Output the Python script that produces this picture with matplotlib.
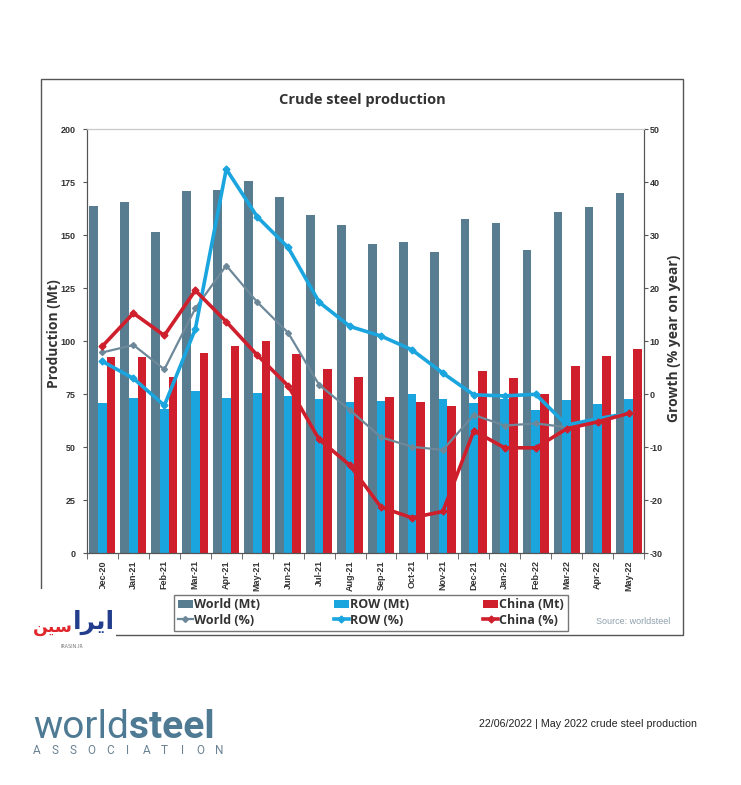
import matplotlib
matplotlib.use("Agg")
import matplotlib.pyplot as plt
from matplotlib.patches import Rectangle
import numpy as np

plt.rcParams["axes.unicode_minus"] = False

# months on the x axis
months = ["Dec-20", "Jan-21", "Feb-21", "Mar-21", "Apr-21", "May-21", "Jun-21",
          "Jul-21", "Aug-21", "Sep-21", "Oct-21", "Nov-21", "Dec-21", "Jan-22",
          "Feb-22", "Mar-22", "Apr-22", "May-22"]

# production, Mt (left axis)
world_mt = [163.7, 165.6, 151.6, 171.0, 171.5, 175.8, 168.2, 159.6, 154.9,
            146.0, 147.0, 142.3, 157.5, 156.0, 143.0, 160.8, 163.5, 169.8]
row_mt = [71.0, 73.3, 67.9, 76.6, 73.4, 75.5, 74.0, 72.6, 71.4,
          71.8, 75.1, 72.8, 70.9, 73.0, 67.6, 72.2, 70.6, 72.6]
china_mt = [92.6, 92.4, 83.3, 94.3, 97.8, 100.1, 93.9, 86.8, 83.3,
            73.7, 71.5, 69.3, 86.1, 82.8, 75.0, 88.3, 92.9, 96.5]

# growth, % year on year (right axis)
world_pct = [7.9, 9.3, 4.7, 16.2, 24.3, 17.4, 11.6, 1.8, -3.0,
             -8.1, -9.9, -10.5, -3.9, -5.9, -5.5, -6.2, -4.7, -3.6]
row_pct = [6.2, 3.0, -2.1, 12.3, 42.5, 33.5, 27.7, 17.4, 12.8,
           11.0, 8.4, 4.0, -0.1, -0.3, 0.0, -5.8, -4.6, -3.6]
china_pct = [9.1, 15.3, 11.1, 19.6, 13.7, 7.4, 1.6, -8.5, -13.4,
             -21.3, -23.3, -22.1, -6.9, -10.1, -10.1, -6.5, -5.2, -3.6]

c_world = "#587c90"
c_row = "#1ba5de"
c_china = "#cf1f2d"
c_world_line = "#6d8899"
dark = "#333333"

fig = plt.figure(figsize=(7.41, 7.85), dpi=100)
W, H = 741.0, 785.0

def fx(px):
    return px / W

def fy(py):
    return 1 - py / H

# outer frame
fig.patches.append(Rectangle((fx(40.7), fy(635)), fx(682.7) - fx(40.7), fy(79.3) - fy(635),
                             transform=fig.transFigure, fill=False, edgecolor="#555555",
                             linewidth=1.0, zorder=1))

ax = fig.add_axes([fx(87), fy(553.3), fx(644) - fx(87), fy(129.3) - fy(553.3)])
ax2 = ax.twinx()

x = np.arange(len(months))
bw = 0.28
ax.bar(x - bw, world_mt, bw, color=c_world, label="World (Mt)", zorder=2)
ax.bar(x, row_mt, bw, color=c_row, label="ROW (Mt)", zorder=2)
ax.bar(x + bw, china_mt, bw, color=c_china, label="China (Mt)", zorder=2)

ax.set_xlim(-0.5, len(months) - 0.5)
ax.set_ylim(0, 200)
ax.set_yticks(np.arange(0, 201, 25))

ax2.plot(x, world_pct, color=c_world_line, lw=1.6, marker="D", ms=3, label="World (%)")
ax2.plot(x, row_pct, color=c_row, lw=2.6, marker="D", ms=3.5, label="ROW (%)")
ax2.plot(x, china_pct, color=c_china, lw=2.6, marker="D", ms=3.5, label="China (%)")
ax2.set_ylim(-30, 50)
ax2.set_yticks(np.arange(-30, 51, 10))

tick_font = dict(family="Liberation Sans", weight="bold", size=6.5)
ax.set_xticks(x)
ax.set_xticklabels(months, rotation=90, color=dark, **tick_font)
ax.set_xticks(np.arange(-0.5, len(months), 1), minor=True)
ax.tick_params(axis="x", which="major", length=0, pad=5)
ax.tick_params(axis="x", which="minor", length=4, color="#555555")
for lab in ax.get_yticklabels():
    lab.set(color=dark, **tick_font)
for lab in ax2.get_yticklabels():
    lab.set(color=dark, **tick_font)
ax.tick_params(axis="y", length=3, color="#555555", pad=5)
ax2.tick_params(axis="y", length=3, color="#555555", pad=1)

for a in (ax, ax2):
    a.spines["left"].set_color("#555555")
    a.spines["right"].set_color("#555555")
    a.spines["bottom"].set_color("#555555")
    a.spines["top"].set_color("#c8c8c8")

lab_font = dict(family="Open Sans", weight="bold", size=10, color=dark)
ax.set_ylabel("Production (Mt)", **lab_font)
ax.yaxis.set_label_coords(-0.047, 0.517)
ax2.set_ylabel("Growth (% year on year)", **lab_font)
ax2.yaxis.set_label_coords(1.041, 0.508)

fig.text(fx(362), fy(100), "Crude steel production", ha="center", va="center",
         family="Open Sans", weight="bold", size=10.5, color=dark)

h1, l1 = ax.get_legend_handles_labels()
h2, l2 = ax2.get_legend_handles_labels()
handles = [h1[0], h2[0], h1[1], h2[1], h1[2], h2[2]]
labels = [l1[0], l2[0], l1[1], l2[1], l1[2], l2[2]]
leg = fig.legend(handles, labels, ncol=3, loc="center", bbox_to_anchor=(fx(371), fy(612.5)),
                 frameon=True, fancybox=False, edgecolor="#555555", handlelength=1.2,
                 handletextpad=0.1, columnspacing=5.9, labelspacing=0.2, borderpad=0.3,
                 prop=dict(family="Open Sans", weight="bold", size=9))
leg.get_frame().set_linewidth(1.0)
for t in leg.get_texts():
    t.set_color(dark)

fig.text(fx(670), fy(622), "Source: worldsteel", ha="right", va="center",
         family="Liberation Sans", size=6.5, color="#8fa0ad")

# logo block covering the frame corner
fig.patches.append(Rectangle((fx(32), fy(668)), fx(116) - fx(32), fy(589) - fy(668),
                             transform=fig.transFigure, facecolor="white", edgecolor="none",
                             zorder=3))
fig.canvas.draw()
t_blue = fig.text(fx(115), fy(622), "\uFE8D\uFEAE\uFEF3\uFE8D", ha="right", va="center",
                  family="DejaVu Sans", weight="bold", size=18, color="#243e8e", zorder=4)
fig.canvas.draw()
bb_blue = t_blue.get_window_extent()
fig.text(bb_blue.x0 / W, fy(627), "\uFEE6\uFEF4\uFEB3", ha="right", va="center",
         family="DejaVu Sans", weight="bold", size=12.5, color="#e0262b", zorder=4)
fig.text(fx(72), fy(647), "IRASIN.IR", ha="center", va="center",
         family="DejaVu Sans", size=3.5, color="#777777", zorder=4)

# worldsteel footer
t_world = fig.text(fx(33), fy(738), "world", ha="left", va="baseline",
                   family="Roboto", size=28, color="#4f7a94")
fig.canvas.draw()
bb = t_world.get_window_extent()
fig.text(bb.x1 / W, fy(738), "steel", ha="left", va="baseline",
         family="Roboto", weight="bold", size=28, color="#4f7a94")
for i, ch in enumerate("ASSOCIATION"):
    fig.text(fx(37 + i * 18.2), fy(751), ch, ha="center", va="center",
             family="Roboto", size=8.5, color="#6a8293")

fig.text(fx(697), fy(724), "22/06/2022 | May 2022 crude steel production", ha="right",
         va="center", family="Liberation Sans", size=7.7, color="#222222")

fig.savefig("out.png", dpi=100)
